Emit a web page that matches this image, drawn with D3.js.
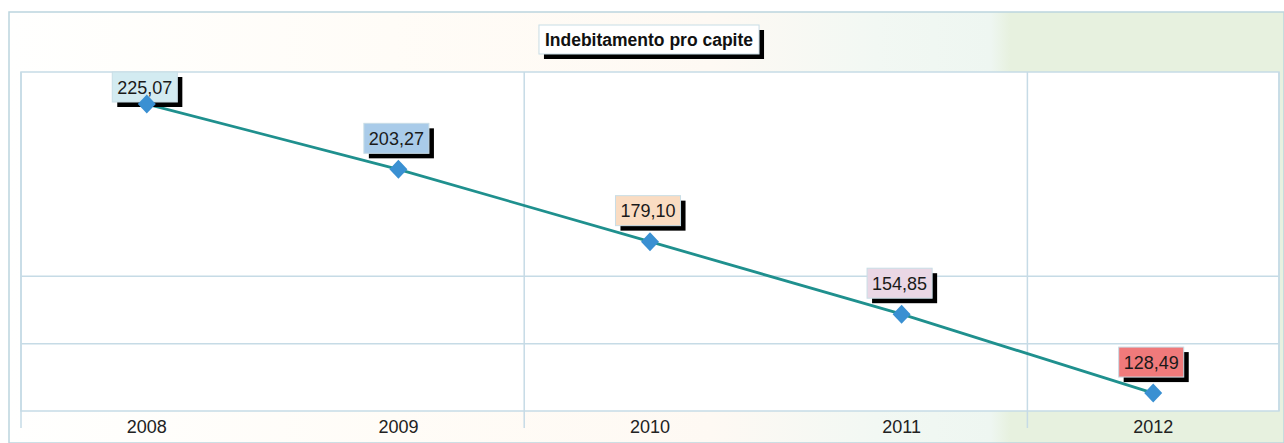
<!DOCTYPE html>
<html>
<head>
<meta charset="utf-8">
<script src="https://cdn.jsdelivr.net/npm/d3@7"></script>
<style>
  body { margin: 0; background: #fff; }
  svg { display: block; font-family: Arial, "Liberation Sans", sans-serif; }
</style>
</head>
<body>
<div id="chart"></div>
<script>
let years = ["2008", "2009", "2010", "2011", "2012"];
let values = [225.07, 203.27, 179.10, 154.85, 128.49];
let labelColors = ["#d3ebf1", "#a9cbe9", "#fadcc2", "#ead7e5", "#f07a7b"];
let yGridValues = [145, 167.5];
let vGridYears = ["2008", "2010", "2012"];
let title = "Indebitamento pro capite";

let W = 1284, H = 443;
let margin = { top: 72, right: 5, bottom: 32, left: 21 };
let width = W - margin.left - margin.right;
let height = H - margin.top - margin.bottom;

let svg = d3.select('#chart')
    .append('svg')
        .attr('width', W)
        .attr('height', H);

// background gradient of the outer frame
let defs = svg.append('defs');
let grad = defs.append('linearGradient').attr('id', 'bg');
[[0, "#fffffe"], [0.3, "#fffcf7"], [0.55, "#fef9f3"], [0.68, "#f2f8f3"], [0.77, "#eef6f1"],
 [0.785, "#e7f1df"], [1, "#e7f1df"]].forEach(function (s) {
    grad.append('stop').attr('offset', s[0]).attr('stop-color', s[1]);
});

svg.append('rect')
    .attr('x', 9).attr('y', 12)
    .attr('width', W - 9).attr('height', H - 12)
    .attr('fill', 'url(#bg)')
    .attr('stroke', '#bcd5de')
    .attr('stroke-width', 1.5);

let g = svg.append('g')
    .attr('transform', "translate(" + margin.left + "," + margin.top + ")");

let x = d3.scaleBand().domain(years).range([0, width]).padding(0);
let y = d3.scaleLinear().domain([122.5, 235.8]).range([height, 0]);

// plot area
g.append('rect')
    .attr('width', width)
    .attr('height', height)
    .attr('fill', '#fff')
    .attr('stroke', '#c6dbe6')
    .attr('stroke-width', 1.5);

// horizontal grid
g.selectAll('.hgrid')
    .data(yGridValues)
    .enter().append('line')
        .attr('x1', 0).attr('x2', width)
        .attr('y1', function (d) { return y(d); })
        .attr('y2', function (d) { return y(d); })
        .attr('stroke', '#c6dbe6')
        .attr('stroke-width', 1.5);

// vertical grid (every second category boundary), running below the plot
g.selectAll('.vgrid')
    .data(vGridYears)
    .enter().append('line')
        .attr('x1', function (d) { return x(d); })
        .attr('x2', function (d) { return x(d); })
        .attr('y1', 0).attr('y2', height + 17)
        .attr('stroke', '#c6dbe6')
        .attr('stroke-width', 1.5);
g.append('line')
    .attr('x1', width).attr('x2', width)
    .attr('y1', 0).attr('y2', height)
    .attr('stroke', '#c6dbe6')
    .attr('stroke-width', 1.5);

// x axis labels
let xAxis = d3.axisBottom(x).tickSize(0).tickPadding(9);
let xAxisGroup = g.append('g')
    .attr('transform', "translate(0," + height + ")")
    .call(xAxis);
xAxisGroup.select('.domain').remove();
xAxisGroup.selectAll('text')
    .attr('font-size', '18px')
    .attr('font-family', 'Arial, "Liberation Sans", sans-serif')
    .attr('fill', '#222')
    .attr('dy', '0.71em');

let data = years.map(function (d, i) {
    return { year: d, value: values[i], color: labelColors[i] };
});

let cx = function (d) { return x(d.year) + x.bandwidth() / 2; };

// line
let line = d3.line()
    .x(cx)
    .y(function (d) { return y(d.value); });

g.append('path')
    .datum(data)
    .attr('d', line)
    .attr('fill', 'none')
    .attr('stroke', '#1f908e')
    .attr('stroke-width', 2.8);

// value labels
let fmt = function (v) { return v.toFixed(2).replace('.', ','); };
let boxH = 30, shadow = 5;

let labels = g.selectAll('.label')
    .data(data)
    .enter().append('g');

labels.each(function (d) {
    let lg = d3.select(this);
    let txt = lg.append('text')
        .attr('font-size', '18px')
        .attr('fill', '#1a1a1a')
        .attr('text-anchor', 'middle')
        .text(fmt(d.value));
    let tw = txt.node().getComputedTextLength();
    let bw = tw + 10;
    let top = Math.max(0, y(d.value) - 16 - boxH);
    let left = cx(d) - bw / 2 - 2;
    lg.insert('rect', 'text')
        .attr('x', left + shadow).attr('y', top + shadow)
        .attr('width', bw).attr('height', boxH)
        .attr('fill', '#000');
    lg.insert('rect', 'text')
        .attr('x', left).attr('y', top)
        .attr('width', bw).attr('height', boxH)
        .attr('fill', d.color)
        .attr('stroke', '#c8dde6')
        .attr('stroke-width', 1);
    txt.attr('x', left + bw / 2).attr('y', top + boxH / 2 + 6.5);
});

// diamond markers, on top of the labels
g.selectAll('.marker')
    .data(data)
    .enter().append('path')
        .attr('d', 'M0,-9.5L9,0L0,9.5L-9,0Z')
        .attr('transform', function (d) {
            return "translate(" + cx(d) + "," + y(d.value) + ")";
        })
        .attr('fill', '#3a90d2');

// title
let tg = svg.append('g');
let tt = tg.append('text')
    .attr('font-size', '17.5px')
    .attr('font-weight', 'bold')
    .attr('fill', '#111')
    .attr('text-anchor', 'middle')
    .attr('x', 649).attr('y', 45.5)
    .text(title);
let ttw = tt.node().getComputedTextLength() + 12;
tg.insert('rect', 'text')
    .attr('x', 649 - ttw / 2 + shadow).attr('y', 25 + shadow)
    .attr('width', ttw).attr('height', 29)
    .attr('fill', '#000');
tg.insert('rect', 'text')
    .attr('x', 649 - ttw / 2).attr('y', 25)
    .attr('width', ttw).attr('height', 29)
    .attr('fill', '#fff')
    .attr('stroke', '#c8dde6');
</script>
</body>
</html>
